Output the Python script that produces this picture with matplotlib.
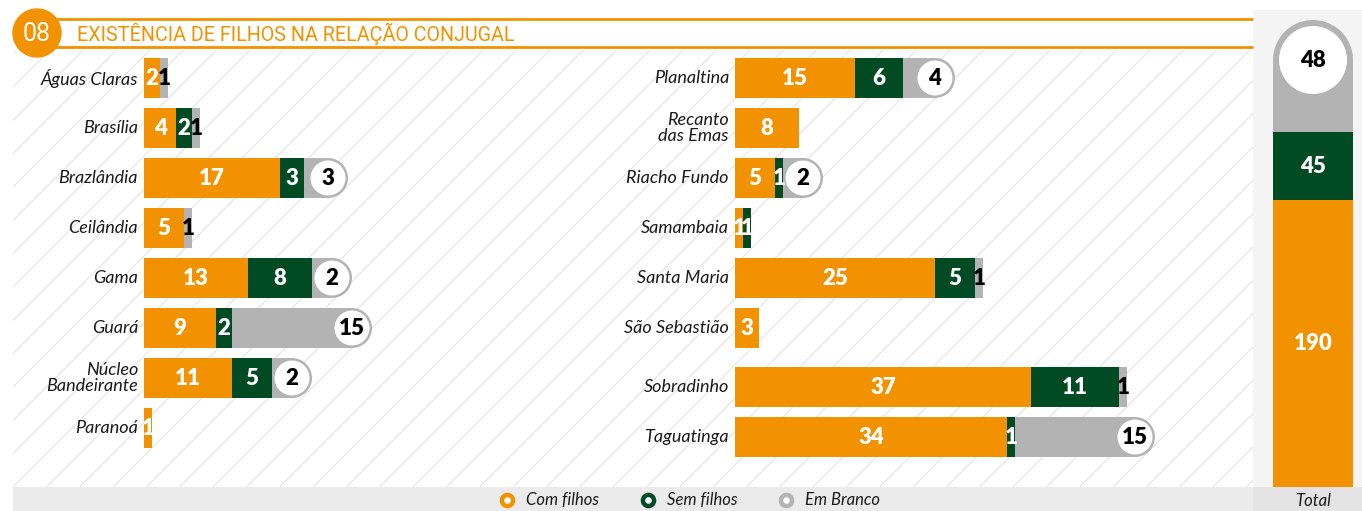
import numpy as np
import matplotlib.pyplot as plt
from matplotlib.patches import Rectangle, Ellipse, Circle

# dados
left_regions = ["Águas Claras", "Brasília", "Brazlândia", "Ceilândia", "Gama",
                "Guará", "Núcleo\nBandeirante", "Paranoá"]
left_com = [2, 4, 17, 5, 13, 9, 11, 1]
left_sem = [0, 2, 3, 0, 8, 2, 5, 0]
left_branco = [1, 1, 3, 1, 2, 15, 2, 0]

right_regions = ["Planaltina", "Recanto\ndas Emas", "Riacho Fundo", "Samambaia",
                 "Santa Maria", "São Sebastião", "Sobradinho", "Taguatinga"]
right_com = [15, 8, 5, 1, 25, 3, 37, 34]
right_sem = [6, 0, 1, 1, 5, 0, 11, 1]
right_branco = [4, 0, 2, 0, 1, 0, 1, 15]

series_names = ["Com filhos", "Sem filhos", "Em Branco"]
title = "EXISTÊNCIA DE FILHOS NA RELAÇÃO CONJUGAL"
chart_number = "08"

ORANGE = "#f39200"
GREEN = "#004b23"
GRAY = "#b3b3b3"
LABEL_FONT = ["Lato", "DejaVu Sans"]

W, H = 1362, 511
PX = 8.0      # pixels por unidade no eixo x
ROW = 50.0    # pixels por linha
XMAX = 60     # unidades visiveis em cada painel

fig = plt.figure(figsize=(W / 100, H / 100), dpi=100)
fig.patch.set_facecolor("white")

# fundo / decoracao em pixels
bg = fig.add_axes([0, 0, 1, 1])
bg.set_xlim(0, W)
bg.set_ylim(H, 0)
bg.axis("off")

plt.rcParams["hatch.linewidth"] = 0.8
bg.add_patch(Rectangle((13, 50), 1240, 437, facecolor="white",
                       edgecolor="#e3e3e3", hatch="/", linewidth=0))
bg.add_patch(Rectangle((1253, 10), 109, 477, facecolor="#f4f4f4", linewidth=0))
bg.add_patch(Rectangle((13, 487), 1240, 24, facecolor="#ebebeb", linewidth=0))
bg.add_patch(Rectangle((1253, 487), 109, 24, facecolor="#e3e3e3", linewidth=0))

# cabecalho
bg.plot([55, 1253], [19, 19], color=ORANGE, lw=2, solid_capstyle="butt")
bg.plot([55, 1253], [47, 47], color=ORANGE, lw=2, solid_capstyle="butt")
bg.add_patch(Circle((37, 33), 24, color=ORANGE, zorder=3))
bg.text(37, 34, chart_number, color="white", fontsize=18, fontweight="normal",
        family=["Roboto", "DejaVu Sans"], ha="center", va="center", zorder=4)
bg.text(77, 34, title, color=ORANGE, fontsize=14.2, fontweight="normal",
        family=["Roboto", "DejaVu Sans"], ha="left", va="center")


def draw_panel(ax, names, com, sem, branco, ypos):
    com = np.array(com, float)
    sem = np.array(sem, float)
    branco = np.array(branco, float)
    ax.barh(ypos, com, height=0.8, color=ORANGE, zorder=2)
    ax.barh(ypos, sem, left=com, height=0.8, color=GREEN, zorder=2)
    cap_r = 20 / PX
    num = dict(ha="center", va="center", fontsize=16, fontweight="heavy",
               family=LABEL_FONT, zorder=5)
    for i, y in enumerate(ypos):
        start = com[i] + sem[i]
        end = start + branco[i]
        ax.text(-6 / PX, y, names[i], ha="right", va="center", style="italic",
                fontsize=13, family=LABEL_FONT, linespacing=0.95,
                color="#1a1a1a")
        if com[i] > 0:
            ax.text(com[i] / 2, y, f"{com[i]:.0f}", color="white", **num)
        if sem[i] > 0:
            ax.text(com[i] + sem[i] / 2, y, f"{sem[i]:.0f}", color="white",
                    **num)
        if branco[i] >= 2:
            cx = max(end, start + cap_r)
            ax.add_patch(Rectangle((start, y - 0.4), cx - start, 0.8,
                                   color=GRAY, lw=0, zorder=2))
            ax.add_patch(Ellipse((cx, y), 2 * cap_r, 0.8, color=GRAY, lw=0,
                                 zorder=2))
            ax.add_patch(Ellipse((cx, y), 2 * 17.5 / PX, 35 / ROW,
                                 color="white", lw=0, zorder=3))
            ax.text(cx, y, f"{branco[i]:.0f}", color="black", **num)
        elif branco[i] > 0:
            ax.add_patch(Rectangle((start, y - 0.4), branco[i], 0.8,
                                   color=GRAY, lw=0, zorder=2))
            ax.text(start + branco[i] / 2, y, f"{branco[i]:.0f}",
                    color="black", **num)
    ax.set_xlim(0, XMAX)
    ax.set_ylim(8.1, -0.5)
    ax.axis("off")


# painel esquerdo
ax_l = fig.add_axes([144 / W, 1 - 483 / H, XMAX * PX / W, 430 / H])
ax_l.patch.set_alpha(0)
draw_panel(ax_l, left_regions, left_com, left_sem, left_branco,
           np.arange(len(left_regions), dtype=float))

# painel direito (as duas ultimas linhas um pouco mais abaixo)
ypos_r = np.arange(len(right_regions), dtype=float)
ypos_r[6:] += 0.18
ax_r = fig.add_axes([735 / W, 1 - 483 / H, XMAX * PX / W, 430 / H])
ax_r.patch.set_alpha(0)
draw_panel(ax_r, right_regions, right_com, right_sem, right_branco, ypos_r)

# coluna total
tot = [sum(left_com) + sum(right_com), sum(left_sem) + sum(right_sem),
       sum(left_branco) + sum(right_branco)]
grand = sum(tot)
p = 427 / grand
ax_t = fig.add_axes([1273 / W, 1 - 487 / H, 80 / W, 467 / H])
ax_t.patch.set_alpha(0)
ax_t.bar(0, tot[0], width=1, color=ORANGE)
ax_t.bar(0, tot[1], bottom=tot[0], width=1, color=GREEN)
ax_t.bar(0, tot[2], bottom=tot[0] + tot[1], width=1, color=GRAY)
ax_t.add_patch(Ellipse((0, grand), 1, 80 / p, color=GRAY, lw=0))
ax_t.add_patch(Ellipse((0, grand), 68 / 80, 68 / p, color="white", lw=0))
tnum = dict(ha="center", va="center", fontsize=16, fontweight="heavy",
            family=LABEL_FONT)
ax_t.text(0, tot[0] / 2, f"{tot[0]}", color="white", **tnum)
ax_t.text(0, tot[0] + tot[1] / 2, f"{tot[1]}", color="white", **tnum)
ax_t.text(0, grand, f"{tot[2]}", color="black", **tnum)
ax_t.set_xlim(-0.5, 0.5)
ax_t.set_ylim(0, 467 / p)
ax_t.axis("off")

bg.text(1313, 501, "Total", ha="center", va="center", style="italic",
        fontsize=12, family=LABEL_FONT, color="#1a1a1a")

# legenda
for x, name, col in zip([507, 648, 786], series_names, [ORANGE, GREEN, GRAY]):
    bg.plot(x, 500, "o", markersize=8, markerfacecolor="white",
            markeredgecolor=col, markeredgewidth=3.2)
    bg.text(x + 19, 500, name, ha="left", va="center", style="italic",
            fontsize=12, family=LABEL_FONT, color="#1a1a1a")

fig.savefig("out.png", dpi=100)
